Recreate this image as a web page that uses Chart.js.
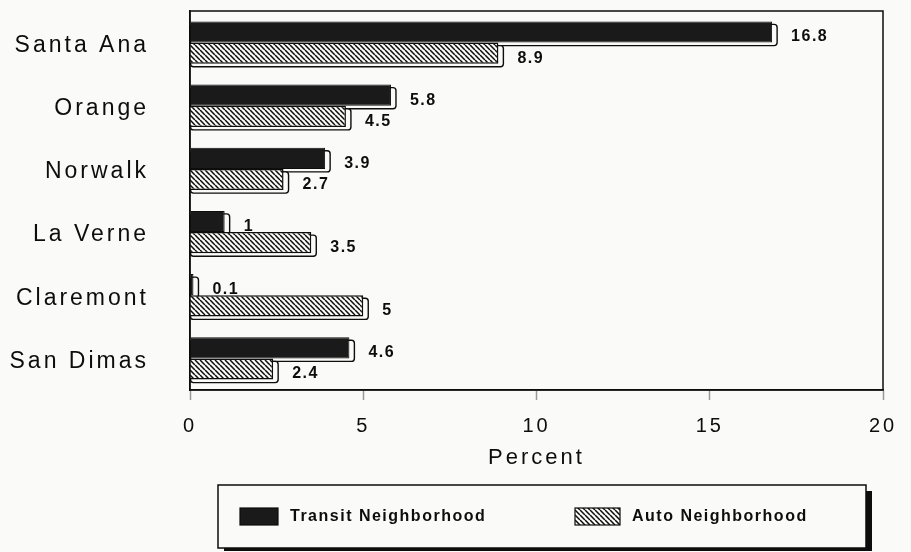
<!DOCTYPE html>
<html>
<head>
<meta charset="utf-8">
<script src="https://cdn.jsdelivr.net/npm/chart.js@4.4.1/dist/chart.umd.min.js"></script>
<style>
    html, body { margin: 0; padding: 0; background: #fafaf8; }
    #wrap { width: 911px; height: 552px; }
</style>
</head>
<body>
<div id="wrap"><canvas id="commuteChart" width="911" height="552"></canvas></div>
<script>
// Values
const cities = ['Santa Ana', 'Orange', 'Norwalk', 'La Verne', 'Claremont', 'San Dimas'];
const transitValues = [16.8, 5.8, 3.9, 1, 0.1, 4.6];
const autoValues = [8.9, 4.5, 2.7, 3.5, 5, 2.4];
const seriesNames = ['Transit Neighborhood', 'Auto Neighborhood'];
const xTicks = [0, 5, 10, 15, 20];
const axisTitle = 'Percent';

const FONT = '"Liberation Sans", Arial, Helvetica, sans-serif';
const INK = '#0d0d0d';
const PAPER = '#fafaf8';

const canvas = document.getElementById('commuteChart');
const ctx = canvas.getContext('2d');

// diagonal hatch like the old plotter fill
function makeHatch() {
    const size = 5;
    const tile = document.createElement('canvas');
    tile.width = size;
    tile.height = size;
    const g = tile.getContext('2d');
    g.fillStyle = PAPER;
    g.fillRect(0, 0, size, size);
    g.strokeStyle = INK;
    g.lineWidth = 1.5;
    g.beginPath();
    for (let k = -1; k <= 1; k++) {
        g.moveTo(k * size, 0);
        g.lineTo(k * size + size, size);
    }
    g.stroke();
    return ctx.createPattern(tile, 'repeat');
}
const hatch = makeHatch();

// spaced-out lettering for axes
const spacingPlugin = {
    id: 'spacing',
    beforeDraw(chart) {
        chart.ctx.letterSpacing = '3px';
    }
};

// frame, offset "shadow" boxes behind bars and the value labels
const barDecor = {
    id: 'barDecor',
    beforeDatasetsDraw(chart) {
        const c = chart.ctx;
        const a = chart.chartArea;
        c.save();
        c.strokeStyle = INK;
        c.lineWidth = 1.5;
        c.strokeRect(a.left, a.top, a.right - a.left, a.bottom - a.top);

        chart.data.datasets.forEach((ds, i) => {
            chart.getDatasetMeta(i).data.forEach(bar => {
                const p = bar.getProps(['x', 'y', 'base', 'height'], true);
                const top = p.y - p.height / 2 + 3;
                c.beginPath();
                c.roundRect(p.base, top, p.x + 5 - p.base, p.height, 3);
                c.fillStyle = PAPER;
                c.fill();
                c.lineWidth = 1.4;
                c.stroke();
            });
        });

        c.font = 'bold 16px ' + FONT;
        c.letterSpacing = '1.5px';
        c.fillStyle = INK;
        c.textAlign = 'left';
        c.textBaseline = 'middle';
        chart.data.datasets.forEach((ds, i) => {
            chart.getDatasetMeta(i).data.forEach((bar, j) => {
                c.fillText(String(ds.data[j]), bar.x + 19, bar.y + 5);
            });
        });
        c.restore();
    }
};

// boxed legend with the heavy drop shadow
const boxLegend = {
    id: 'boxLegend',
    afterDraw(chart) {
        const c = chart.ctx;
        const a = chart.chartArea;
        const L = a.left + 28, R = a.right - 17, T = a.bottom + 95, B = T + 63;
        c.save();
        c.fillStyle = INK;
        c.fillRect(R, T + 6, 6, B - T - 3);
        c.fillRect(L + 6, B, R - L, 3);
        c.fillStyle = PAPER;
        c.fillRect(L, T, R - L, B - T);
        c.strokeStyle = INK;
        c.lineWidth = 1.5;
        c.strokeRect(L, T, R - L, B - T);

        const items = [{ x: L + 22, w: 38 }, { x: L + 357, w: 45 }];
        c.font = 'bold 16px ' + FONT;
        c.letterSpacing = '1.5px';
        c.textAlign = 'left';
        c.textBaseline = 'middle';
        chart.data.datasets.forEach((ds, i) => {
            const it = items[i];
            c.fillStyle = ds.backgroundColor;
            c.fillRect(it.x, T + 23, it.w, 17);
            c.lineWidth = 1.2;
            c.strokeRect(it.x, T + 23, it.w, 17);
            c.fillStyle = INK;
            c.fillText(ds.label, it.x + it.w + 12, T + 32);
        });
        c.restore();
    }
};

Chart.defaults.font.family = FONT;
Chart.defaults.color = INK;

new Chart(ctx, {
    type: 'bar',
    data: {
        labels: cities,
        datasets: [
            {
                label: seriesNames[0],
                data: transitValues,
                backgroundColor: '#1a1a1a',
                borderColor: INK,
                borderWidth: 1
            },
            {
                label: seriesNames[1],
                data: autoValues,
                backgroundColor: hatch,
                borderColor: INK,
                borderWidth: 1.5
            }
        ]
    },
    options: {
        indexAxis: 'y',
        responsive: false,
        animation: false,
        layout: { padding: { top: 11, right: 28, bottom: 80, left: 0 } },
        datasets: { bar: { categoryPercentage: 0.67, barPercentage: 1 } },
        plugins: {
            legend: { display: false },
            tooltip: { enabled: false }
        },
        scales: {
            x: {
                min: 0,
                max: 20,
                afterBuildTicks(s) { s.ticks = xTicks.map(v => ({ value: v })); },
                grid: { drawOnChartArea: false, drawTicks: true, tickLength: 10, tickColor: '#999', tickWidth: 1.5 },
                border: { color: INK, width: 1.5 },
                ticks: { color: INK, font: { size: 20 }, padding: 14, maxRotation: 0 },
                title: { display: true, text: axisTitle, color: INK, font: { size: 22 }, padding: { top: 4, bottom: 1 } },
                afterFit(s) { s.height = 82; }
            },
            y: {
                grid: { display: false },
                border: { display: true, color: INK, width: 1.5 },
                ticks: { color: INK, font: { size: 23 }, padding: 33, labelOffset: 3 },
                afterFit(s) {
                    s.width = 190;
                    s.paddingTop = 0;
                    s.paddingBottom = 0;
                }
            }
        }
    },
    plugins: [spacingPlugin, barDecor, boxLegend]
});
</script>
</body>
</html>
